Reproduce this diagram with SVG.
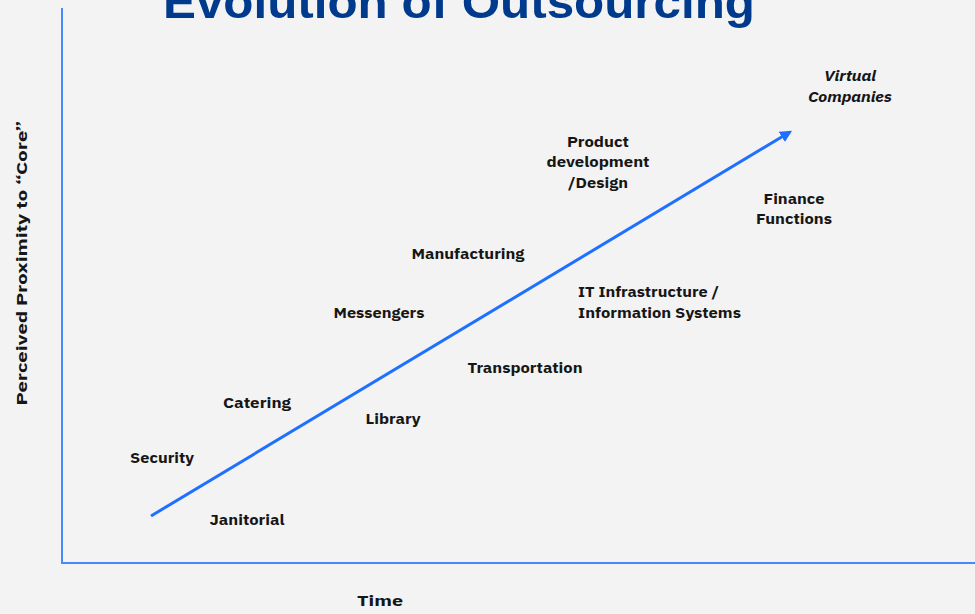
<svg xmlns="http://www.w3.org/2000/svg" width="975" height="614" viewBox="0 0 975 614">
<defs>
<style>
.lbl{font-family:"IBM Plex Sans","Noto Sans","Liberation Sans",sans-serif;font-weight:bold;font-size:15.5px;fill:#161616;text-anchor:middle}
.st{text-anchor:start}
.it{font-style:italic}
.axis{stroke:#4589ff;stroke-width:2;fill:none}
</style>
<marker id="ah" viewBox="0 0 10 10" refX="8" refY="5" markerWidth="4" markerHeight="4" orient="auto"><path d="M0,0 L10,5 L0,10 z" fill="#1f70ff"/></marker>
</defs>
<rect width="975" height="614" fill="#f3f3f3"/>
<text x="459" y="18" font-family="Liberation Sans, Arial, sans-serif" font-weight="bold" font-size="47" fill="#003a8c" text-anchor="middle" textLength="592" lengthAdjust="spacingAndGlyphs">Evolution of Outsourcing</text>
<g id="axes">
<path class="axis" d="M62,8 V563 H975"/>
</g>
<g id="connectors">
<line x1="151" y1="516" x2="790" y2="132" stroke="#1f70ff" stroke-width="3" marker-end="url(#ah)"/>
</g>
<g id="ylabel"><text class="lbl" transform="translate(27,263) rotate(-90)" font-size="18" textLength="285" lengthAdjust="spacingAndGlyphs">Perceived Proximity to “Core”</text></g>
<g id="xlabel"><text class="lbl" x="380" y="606" font-size="17" textLength="46" lengthAdjust="spacingAndGlyphs">Time</text></g>
<g id="virtual"><text class="lbl it" x="850" y="81" textLength="52" lengthAdjust="spacingAndGlyphs">Virtual</text><text class="lbl it" x="850" y="102" textLength="84" lengthAdjust="spacingAndGlyphs">Companies</text></g>
<g id="product"><text class="lbl" x="598" y="147" textLength="62" lengthAdjust="spacingAndGlyphs">Product</text><text class="lbl" x="598" y="167" textLength="103" lengthAdjust="spacingAndGlyphs">development</text><text class="lbl" x="598" y="188" textLength="60" lengthAdjust="spacingAndGlyphs">/Design</text></g>
<g id="finance"><text class="lbl" x="794" y="204" textLength="61" lengthAdjust="spacingAndGlyphs">Finance</text><text class="lbl" x="794" y="224" textLength="76" lengthAdjust="spacingAndGlyphs">Functions</text></g>
<g id="manufacturing"><text class="lbl" x="468" y="259" textLength="113" lengthAdjust="spacingAndGlyphs">Manufacturing</text></g>
<g id="it"><text class="lbl st" x="578" y="297" textLength="141" lengthAdjust="spacingAndGlyphs">IT Infrastructure /</text><text class="lbl st" x="578" y="318" textLength="163" lengthAdjust="spacingAndGlyphs">Information Systems</text></g>
<g id="messengers"><text class="lbl" x="379" y="318" textLength="91" lengthAdjust="spacingAndGlyphs">Messengers</text></g>
<g id="transportation"><text class="lbl" x="525" y="373" textLength="115" lengthAdjust="spacingAndGlyphs">Transportation</text></g>
<g id="catering"><text class="lbl" x="257" y="408" textLength="68" lengthAdjust="spacingAndGlyphs">Catering</text></g>
<g id="library"><text class="lbl" x="393" y="424" textLength="55" lengthAdjust="spacingAndGlyphs">Library</text></g>
<g id="security"><text class="lbl" x="162" y="463" textLength="64" lengthAdjust="spacingAndGlyphs">Security</text></g>
<g id="janitorial"><text class="lbl" x="247" y="525" textLength="75" lengthAdjust="spacingAndGlyphs">Janitorial</text></g>
</svg>
